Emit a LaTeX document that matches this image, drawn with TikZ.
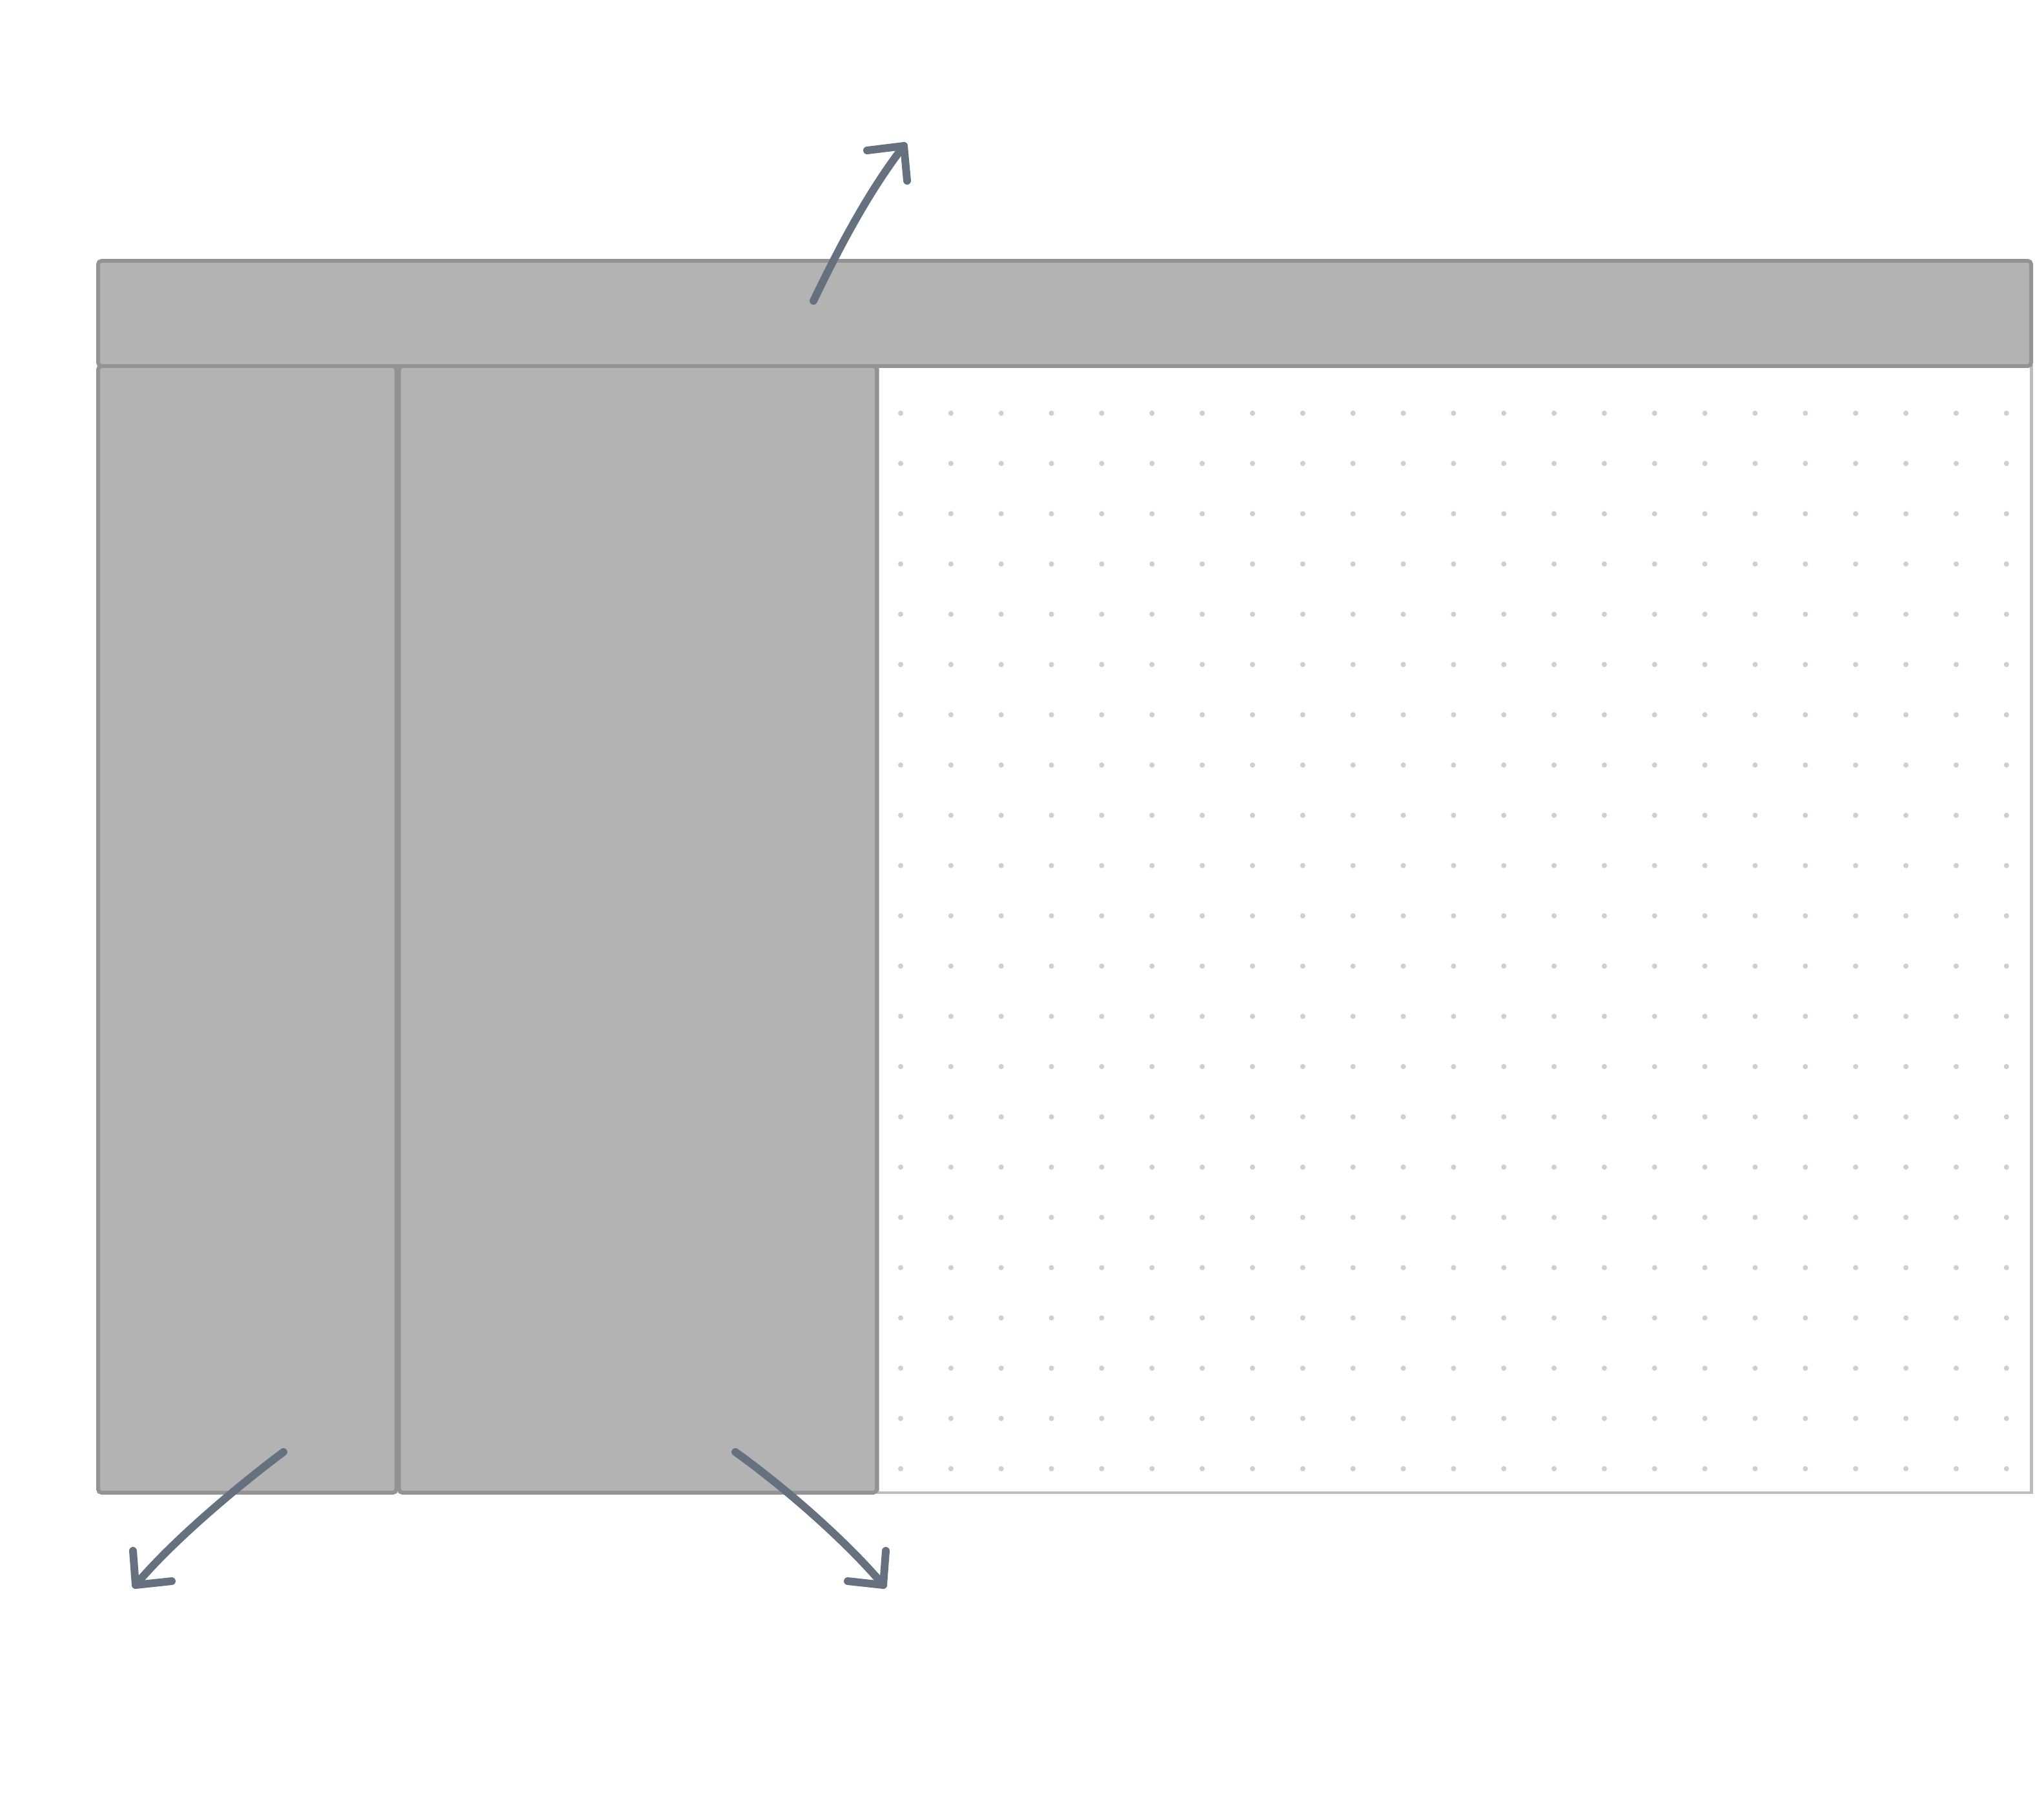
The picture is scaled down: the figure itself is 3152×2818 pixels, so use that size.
\documentclass[tikz,border=0pt]{standalone}
\usepackage{fontspec}
\setmainfont{Liberation Sans}
\definecolor{panelfill}{HTML}{B3B3B3}
\definecolor{panelline}{HTML}{939393}
\definecolor{canvasline}{HTML}{BDBDBD}
\definecolor{dotcol}{HTML}{CFCFCF}
\definecolor{arrowcol}{HTML}{65717E}
\definecolor{labelcol}{HTML}{FFFFFF}
\begin{document}
\begin{tikzpicture}[x=0.01cm,y=-0.01cm,
  panel/.style={fill=panelfill,draw=panelline,line width=1.7pt,rounded corners=1.5pt},
  canvasbox/.style={fill=white,draw=canvasline,line width=1.4pt},
  arr/.style={draw=arrowcol,line width=3.4pt,line cap=round,line join=round},
  lbl/.style={text=labelcol,inner sep=0pt,font=\fontsize{37.8}{38.7}\selectfont}]
\useasboundingbox (0,0) rectangle (3152,2818);
% canvas with dot grid
\draw[canvasbox] (1360,567) rectangle (3146,2312);
\begin{scope}
  \clip (1362,569) rectangle (3144,2310);
  \foreach \i in {0,...,22}{
    \foreach \j in {0,...,21}{
      \fill[dotcol] ({1395+77.85*\i},{640+77.85*\j}) circle (1.15pt);
    }
  }
\end{scope}
% panels
\draw[panel] (152,567) rectangle (614,2312);
\draw[panel] (618,567) rectangle (1358,2312);
\draw[panel] (152,404) rectangle (3146,567);
% labels
\node[lbl,anchor=base west] (nav) at (1076,103) {navigation};
\node[lbl,anchor=base west,align=left] (elem) at (5,2785) {elements\\pane};
\node[lbl,anchor=base west] (ned) at (1060,2649) {node editor};
% arrow endpoints
\coordinate (s1) at (1260,466);
\coordinate (t1) at (1400,226);
\coordinate (h1a) at (1343,233);
\coordinate (h1b) at (1405,280);
\coordinate (s2) at (439,2249);
\coordinate (t2) at (210,2455);
\coordinate (h2a) at (206,2402);
\coordinate (h2b) at (266,2449);
\coordinate (s3) at (1139,2249);
\coordinate (t3) at (1368,2455);
\coordinate (h3a) at (1372,2402);
\coordinate (h3b) at (1313,2449);
% arrows
\draw[arr] (s1) .. controls (1299,385) and (1345,297) .. (t1);
\draw[arr] (h1a) -- (t1) -- (h1b);
\draw[arr] (s2) .. controls (367,2303) and (268,2386) .. (t2);
\draw[arr] (h2a) -- (t2) -- (h2b);
\draw[arr] (s3) .. controls (1212,2301) and (1310,2386) .. (t3);
\draw[arr] (h3a) -- (t3) -- (h3b);
\end{tikzpicture}
\end{document}
